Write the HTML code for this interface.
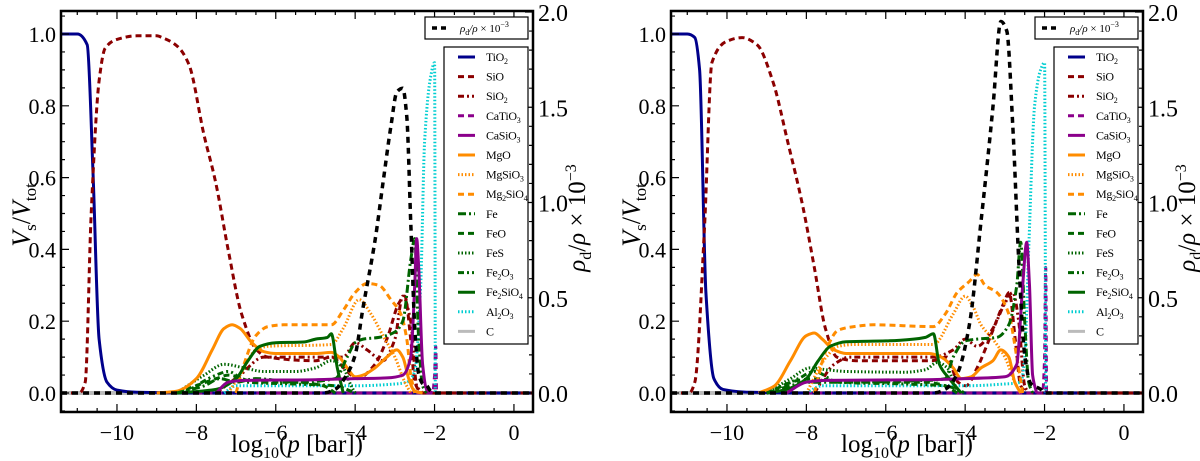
<!DOCTYPE html>
<html><head><meta charset="utf-8"><style>
html,body{margin:0;padding:0;background:#fff;}
svg{display:block;font-family:"Liberation Serif",serif;}
</style></head><body>
<svg id="fig" width="1200" height="461" viewBox="0 0 1200 461" xmlns="http://www.w3.org/2000/svg"></svg>
<script>
// ---------------- data (left panel) ----------------
const L_TiO2_x=[-11.41,-11.0,-10.75,-10.6,-10.45,-10.25,-10.0,-9.5,-8,0.48];
const L_TiO2_y=[1.0,1.0,0.97,0.6,0.15,0.03,0.008,0.002,0,0];
const L_SiO_x=[-11.41,-10.95,-10.8,-10.65,-10.45,-10.3,-10,-9.5,-9,-8.86,-8.48,-8.19,-7.81,-7.52,-7.2,-6.86,-6.48,-6.2,-5,-4.6,-4.2,-3.95,-3.5,-3.2,-2.9,-2.75,-2.6,-2.5,-2.3,0.48];
const L_SiO_y=[0,0,0.03,0.5,0.87,0.96,0.985,0.995,0.995,0.99,0.966,0.916,0.72,0.59,0.4,0.22,0.12,0.1,0.09,0.1,0.06,0.04,0.08,0.15,0.25,0.27,0.15,0.03,0,0];
const L_SiO2_x=[-7.5,-6.9,-6.3,-4.5,-4.3,-4.0,-3.7,-3.3,-3.0,-2.8,-2.6,-2.45,-2.3];
const L_SiO2_y=[0,0.05,0.1,0.1,0.1,0.14,0.12,0.09,0.15,0.27,0.2,0.02,0];
const L_CaTiO3_x=[-8,-2.05,-2.0,-1.97,-1.95];
const L_CaTiO3_y=[0,0,0.05,0.13,0];
const L_CaSiO3_x=[-7.5,-7.2,-6.8,-5,-4,-3.2,-2.8,-2.6,-2.5,-2.45,-2.4,-2.3,-2.2,-2.05];
const L_CaSiO3_y=[0,0.03,0.035,0.037,0.04,0.042,0.05,0.1,0.3,0.43,0.35,0.08,0.01,0];
const L_MgO_x=[-9,-8.5,-8,-7.6,-7.3,-7.1,-6.9,-6.6,-6.3,-6,-5,-4.6,-4.4,-4.2,-4.0,-3.8,-3.5,-3.2,-2.95,-2.8,-2.65,-2.5,-2.3];
const L_MgO_y=[0,0.005,0.04,0.12,0.18,0.19,0.18,0.14,0.115,0.11,0.11,0.113,0.1,0.07,0.045,0.05,0.07,0.1,0.12,0.1,0.04,0.005,0];
const L_MgSiO3_x=[-7.2,-6.9,-6.5,-6.2,-4.6,-4.3,-3.9,-3.6,-3.3,-3.0,-2.75,-2.6];
const L_MgSiO3_y=[0,0.05,0.12,0.13,0.135,0.18,0.26,0.22,0.16,0.1,0.03,0];
const L_Mg2SiO4_x=[-7,-6.8,-6.5,-6.2,-5.8,-4.6,-4.3,-4.0,-3.7,-3.4,-3.1,-2.85,-2.7,-2.6,-2.5];
const L_Mg2SiO4_y=[0,0.08,0.16,0.185,0.19,0.19,0.23,0.28,0.305,0.3,0.26,0.22,0.15,0.05,0];
const L_Fe_x=[-8.5,-7.8,-7.4,-7,-6.5,-5.5,-4.5,-4.2,-4.0,-3.8,-3.4,-3.0,-2.8,-2.6,-2.5,-2.4,-2.3,-2.2];
const L_Fe_y=[0,0.02,0.04,0.03,0.04,0.03,0.04,0.1,0.14,0.15,0.155,0.17,0.2,0.37,0.43,0.15,0.02,0];
const L_FeO_x=[-8.5,-7.5,-7.2,-6.5,-5.5,-4.8,-4.5];
const L_FeO_y=[0,0.04,0.05,0.03,0.03,0.02,0];
const L_FeS_x=[-8.5,-7.8,-7.3,-6.8,-6.3,-5.5,-5,-4.6,-4.3,-4.1,-4];
const L_FeS_y=[0,0.05,0.08,0.07,0.06,0.06,0.07,0.09,0.07,0.02,0];
const L_Fe2O3_x=[-8.3,-7.5,-7.2,-6.7,-5.5,-4.5,-4.0];
const L_Fe2O3_y=[0,0.05,0.06,0.03,0.025,0.02,0];
const L_Fe2SiO4_x=[-8.5,-7.5,-7.0,-6.7,-6.4,-6.0,-5.3,-5.0,-4.7,-4.6,-4.45,-4.3];
const L_Fe2SiO4_y=[0,0.01,0.04,0.09,0.13,0.14,0.142,0.15,0.155,0.165,0.07,0];
const L_Al2O3_x=[-7.3,-7,-6,-4,-3,-2.7,-2.5,-2.35,-2.25,-2.1,-2.0,-1.98];
const L_Al2O3_y=[0,0.02,0.02,0.02,0.025,0.03,0.06,0.3,0.7,0.88,0.92,0];
const L_C_x=[-11.41,0.48];
const L_C_y=[0,0];
const L_rho_x=[-11.41,-4.8,-4.5,-4.2,-4.0,-3.8,-3.5,-3.3,-3.1,-2.95,-2.8,-2.7,-2.6,-2.5,-2.4,-2.3,-2.2,-2.1,-2.0,0.48];
const L_rho_y=[0,0,0.02,0.1,0.2,0.45,0.8,1.1,1.4,1.58,1.6,1.45,0.9,0.35,0.1,0.05,0.04,0.01,0,0];
// ---------------- data (right panel) ----------------
const R_TiO2_x=[-11.41,-11.0,-10.81,-10.69,-10.53,-10.33,-10.1,-9.4,-8,0.48];
const R_TiO2_y=[1.0,1.0,0.99,0.9,0.28,0.04,0.01,0.002,0,0];
const R_SiO_x=[-11.41,-10.95,-10.81,-10.57,-10.38,-10,-9.62,-9.24,-8.85,-8.47,-8.09,-7.8,-7.52,-7.23,-6.75,-4.84,-4.46,-4.18,-3.98,-3.7,-3.32,-3.03,-2.89,-2.74,-2.6,-2.4,0.48];
const R_SiO_y=[0,0,0.03,0.45,0.92,0.98,0.99,0.97,0.87,0.7,0.52,0.35,0.18,0.1,0.09,0.09,0.1,0.03,0.02,0.07,0.17,0.25,0.28,0.15,0.02,0,0];
const R_SiO2_x=[-7.8,-7.3,-6.9,-4.8,-4.3,-4.0,-3.7,-3.3,-3.0,-2.8,-2.65,-2.5,-2.4];
const R_SiO2_y=[0,0.08,0.1,0.1,0.12,0.15,0.13,0.18,0.25,0.28,0.2,0.02,0];
const R_CaTiO3_x=[-8,-2.05,-2.0,-1.97,-1.95];
const R_CaTiO3_y=[0,0,0.1,0.35,0];
const R_CaSiO3_x=[-8.5,-8,-7.5,-5,-4,-3,-2.7,-2.55,-2.45,-2.38,-2.3,-2.2];
const R_CaSiO3_y=[0,0.03,0.035,0.037,0.04,0.045,0.08,0.3,0.42,0.3,0.05,0];
const R_MgO_x=[-9.2,-8.8,-8.4,-8.0,-7.8,-7.6,-7.3,-7.0,-4.9,-4.6,-4.3,-4.1,-3.85,-3.6,-3.3,-3.1,-2.9,-2.75,-2.6];
const R_MgO_y=[0,0.02,0.09,0.16,0.167,0.15,0.12,0.11,0.11,0.1,0.07,0.04,0.045,0.07,0.09,0.12,0.1,0.03,0];
const R_MgSiO3_x=[-8,-7.5,-7.2,-6.8,-4.8,-4.3,-4.0,-3.8,-3.6,-3.3,-3,-2.75,-2.6];
const R_MgSiO3_y=[0,0.1,0.13,0.135,0.135,0.22,0.27,0.24,0.19,0.15,0.1,0.03,0];
const R_Mg2SiO4_x=[-7.8,-7.5,-7.2,-6.8,-6.3,-4.8,-4.5,-4.2,-3.9,-3.7,-3.5,-3.2,-2.9,-2.7,-2.55];
const R_Mg2SiO4_y=[0,0.12,0.175,0.185,0.19,0.185,0.22,0.28,0.31,0.33,0.3,0.28,0.22,0.1,0];
const R_Fe_x=[-9,-8.4,-8.0,-7,-5,-4.5,-4.3,-4.0,-3.7,-3.2,-2.9,-2.7,-2.6,-2.5,-2.4,-2.3];
const R_Fe_y=[0,0.02,0.03,0.03,0.035,0.04,0.1,0.145,0.15,0.155,0.19,0.3,0.42,0.2,0.03,0];
const R_FeO_x=[-9,-8.2,-7.8,-7,-5,-4.5,-4.2];
const R_FeO_y=[0,0.035,0.04,0.03,0.03,0.02,0];
const R_FeS_x=[-9,-8.4,-7.9,-7.5,-7,-5.5,-5,-4.7,-4.45,-4.2,-4.0];
const R_FeS_y=[0,0.04,0.07,0.065,0.06,0.058,0.065,0.085,0.07,0.01,0];
const R_Fe2O3_x=[-9,-8.2,-7.8,-7.2,-5.5,-4.5,-4.0];
const R_Fe2O3_y=[0,0.04,0.06,0.03,0.025,0.02,0];
const R_Fe2SiO4_x=[-9,-8.5,-8.0,-7.7,-7.4,-7.0,-6.0,-5.3,-5.0,-4.8,-4.65,-4.4,-4.1];
const R_Fe2SiO4_y=[0,0.01,0.04,0.09,0.13,0.143,0.145,0.15,0.155,0.165,0.08,0.04,0];
const R_Al2O3_x=[-8,-7.6,-4,-3,-2.6,-2.5,-2.4,-2.25,-2.1,-2.0,-1.97];
const R_Al2O3_y=[0,0.02,0.02,0.025,0.03,0.1,0.4,0.8,0.9,0.92,0];
const R_C_x=[-11.41,0.48];
const R_C_y=[0,0];
const R_rho_x=[-11.41,-4.8,-4.5,-4.2,-3.9,-3.6,-3.3,-3.1,-2.95,-2.8,-2.65,-2.5,-2.35,-2.1,-2.0,0.48];
const R_rho_y=[0,0,0.02,0.1,0.35,0.9,1.5,1.95,1.9,1.4,0.7,0.2,0.05,0.02,0,0];
// tick labels
const xTicks=[-10,-8,-6,-4,-2,0];
const yTicksL=[0,0.2,0.4,0.6,0.8,1.0];
const yTicksR=[0,0.5,1.0,1.5,2.0];
const SB="<tspan dy='3' font-size='8'>";
const SE="</tspan><tspan dy='-3'>\u200b</tspan>";
const legendNames=["TiO"+SB+"2"+SE,"SiO","SiO"+SB+"2"+SE,"CaTiO"+SB+"3"+SE,"CaSiO"+SB+"3"+SE,"MgO","MgSiO"+SB+"3"+SE,"Mg"+SB+"2"+SE+"SiO"+SB+"4"+SE,"Fe","FeO","FeS","Fe"+SB+"2"+SE+"O"+SB+"3"+SE,"Fe"+SB+"2"+SE+"SiO"+SB+"4"+SE,"Al"+SB+"2"+SE+"O"+SB+"3"+SE,"C"];
const legendKeys=["tio2","sio","sio2","catio3","casio3","mgo","mgsio3","mg2sio4","fe","feo","fes","fe2o3","fe2sio4","al2o3","c"];

const STY={
 tio2:{c:"#00008b",d:""}, sio:{c:"#8b0000",d:"6,4"}, sio2:{c:"#8b0000",d:"6,3,2,3,2,3"},
 catio3:{c:"#8b008b",d:"6,4"}, casio3:{c:"#8b008b",d:""}, mgo:{c:"#ff8c00",d:""},
 mgsio3:{c:"#ff8c00",d:"1.5,2"}, mg2sio4:{c:"#ff8c00",d:"6,4"}, fe:{c:"#006400",d:"8,3,2,3"},
 feo:{c:"#006400",d:"6,4"}, fes:{c:"#006400",d:"1.5,2"}, fe2o3:{c:"#006400",d:"6,3,2,3,2,3"},
 fe2sio4:{c:"#006400",d:""}, al2o3:{c:"#00ced1",d:"1.5,2"}, c:{c:"#bbbbbb",d:""}
};
const PANELS=[
 {off:0,data:{c:[L_C_x,L_C_y],tio2:[L_TiO2_x,L_TiO2_y],sio:[L_SiO_x,L_SiO_y],sio2:[L_SiO2_x,L_SiO2_y],catio3:[L_CaTiO3_x,L_CaTiO3_y],al2o3:[L_Al2O3_x,L_Al2O3_y],fes:[L_FeS_x,L_FeS_y],fe2o3:[L_Fe2O3_x,L_Fe2O3_y],feo:[L_FeO_x,L_FeO_y],mgsio3:[L_MgSiO3_x,L_MgSiO3_y],mg2sio4:[L_Mg2SiO4_x,L_Mg2SiO4_y],mgo:[L_MgO_x,L_MgO_y],fe2sio4:[L_Fe2SiO4_x,L_Fe2SiO4_y],fe:[L_Fe_x,L_Fe_y],casio3:[L_CaSiO3_x,L_CaSiO3_y]},rho:[L_rho_x,L_rho_y]},
 {off:610,data:{c:[R_C_x,R_C_y],tio2:[R_TiO2_x,R_TiO2_y],sio:[R_SiO_x,R_SiO_y],sio2:[R_SiO2_x,R_SiO2_y],catio3:[R_CaTiO3_x,R_CaTiO3_y],al2o3:[R_Al2O3_x,R_Al2O3_y],fes:[R_FeS_x,R_FeS_y],fe2o3:[R_Fe2O3_x,R_Fe2O3_y],feo:[R_FeO_x,R_FeO_y],mgsio3:[R_MgSiO3_x,R_MgSiO3_y],mg2sio4:[R_Mg2SiO4_x,R_Mg2SiO4_y],mgo:[R_MgO_x,R_MgO_y],fe2sio4:[R_Fe2SiO4_x,R_Fe2SiO4_y],fe:[R_Fe_x,R_Fe_y],casio3:[R_CaSiO3_x,R_CaSiO3_y]},rho:[R_rho_x,R_rho_y]}
];

const NS="http://www.w3.org/2000/svg";
const fig=document.getElementById('fig');
function mk(tag,attrs,parent,html){const e=document.createElementNS(NS,tag);for(const k in attrs)e.setAttribute(k,attrs[k]);if(html!==undefined)e.innerHTML=html;(parent||fig).appendChild(e);return e;}

const BX0=61,BX1=533,BY0=11,BY1=412,XMIN=-11.41,XMAX=0.48;
// monotone cubic (Fritsch-Carlson) - no overshoot
function smooth(pts){
 const n=pts.length,f=v=>v.toFixed(1);
 if(n<3)return pts.map((p,i)=>(i?'L':'M')+f(p[0])+','+f(p[1])).join('');
 const dx=[],s=[];
 for(let i=0;i<n-1;i++){dx[i]=pts[i+1][0]-pts[i][0];s[i]=(pts[i+1][1]-pts[i][1])/(dx[i]||1e-6);}
 const m=[s[0]];
 for(let i=1;i<n-1;i++){m[i]=(s[i-1]*s[i]<=0)?0:3*(dx[i-1]+dx[i])/((2*dx[i]+dx[i-1])/s[i-1]+(dx[i]+2*dx[i-1])/s[i]);}
 m[n-1]=s[n-2];
 let d='M'+f(pts[0][0])+','+f(pts[0][1]);
 for(let i=0;i<n-1;i++){
  const h=dx[i]/3;
  d+=`C${f(pts[i][0]+h)},${f(pts[i][1]+m[i]*h)} ${f(pts[i+1][0]-h)},${f(pts[i+1][1]-m[i+1]*h)} ${f(pts[i+1][0])},${f(pts[i+1][1])}`;
 }
 return d;
}
PANELS.forEach((P,pi)=>{
 const o=P.off;
 const sx=v=>o+BX0+(v-XMIN)/(XMAX-XMIN)*(BX1-BX0);
 const syL=v=>393-v*359;
 const syR=v=>393-v*190.5;
 const g=mk('g',{});
 
 
 const clipId='clip'+pi;
 const cp=mk('clipPath',{id:clipId},g);mk('rect',{x:o+BX0,y:BY0,width:BX1-BX0,height:BY1-BY0},cp);
 const plot=mk('g',{'clip-path':'url(#'+clipId+')'},g);
 const path=(xs,ys,sy)=>smooth(xs.map((x,i)=>[sx(x),sy(ys[i])]));
 Object.keys(P.data).forEach(k=>{
  const s=STY[k],d=P.data[k];
  const p=mk('path',{d:path(d[0],d[1],syL),fill:'none',stroke:s.c,'stroke-width':k==='c'?4:3,'stroke-dasharray':s.d,'stroke-linejoin':'round'},plot);
  
  
 });
 const rp=mk('path',{d:path(P.rho[0],P.rho[1],syR),fill:'none',stroke:'#000','stroke-width':3.5,'stroke-dasharray':'6,5'},plot);
 
 
 const fr=mk('rect',{x:o+BX0,y:BY0,width:BX1-BX0,height:BY1-BY0,fill:'none',stroke:'#000','stroke-width':2.5},g);
 
 
 let t='';
 for(let v=-11;v<=0.01;v+=0.5){const X=sx(v),L=(Math.abs(v%2)<1e-6)?8:4;t+=`M${X},${BY1}v${-L}M${X},${BY0}v${L}`;}
 for(let v=-0.05;v<=1.06;v+=0.05){const Y=syL(v),L=(Math.abs(Math.round(v*100)%20)<1)?8:4;t+=`M${o+BX0},${Y}h${L}`;}
 for(let v=-0.1;v<=2.01;v+=0.1){const Y=syR(v),L=(Math.abs(Math.round(v*10)%5)<1)?8:4;t+=`M${o+BX1},${Y}h${-L}`;}
 mk('path',{d:t,stroke:'#000','stroke-width':1.2,fill:'none'},g);
 xTicks.forEach(v=>{const e=mk('text',{x:sx(v),y:440,'text-anchor':'middle','font-size':22},g,(v<0?'\u2212':'')+Math.abs(v));
  
  });
 yTicksL.forEach(v=>{const e=mk('text',{x:o+56,y:syL(v)+8,'text-anchor':'end','font-size':22},g,v.toFixed(1));
  
  });
 yTicksR.forEach(v=>{const e=mk('text',{x:o+538,y:syR(v)+9,'text-anchor':'start','font-size':24},g,v.toFixed(1));
  
  });
 const xt=mk('text',{x:o+297,y:452,'text-anchor':'middle','font-size':25},g,"log<tspan dy='6' font-size='16'>10</tspan><tspan dy='-6'>(</tspan><tspan font-style='italic'>p</tspan> [bar])");
 
 
 const yt=mk('text',{transform:`translate(${o+30},${215}) rotate(-90)`,'text-anchor':'middle','font-size':26},g,"<tspan font-style='italic'>V</tspan><tspan dy='6' font-size='17'>s</tspan><tspan dy='-6'>/</tspan><tspan font-style='italic'>V</tspan><tspan dy='6' font-size='17'>tot</tspan>");
 
 
 const yr=mk('text',{transform:`translate(${o+585},${218}) rotate(-90)`,'text-anchor':'middle','font-size':25},g,"<tspan font-style='italic'>ρ</tspan><tspan dy='6' font-size='16'>d</tspan><tspan dy='-6'>/</tspan><tspan font-style='italic'>ρ</tspan> × 10<tspan dy='-9' font-size='16'>−3</tspan>");
 
 
 const lg1=mk('g',{},g);
 
 
 mk('rect',{x:o+425,y:17,width:103,height:22,fill:'#fff',stroke:'#000','stroke-width':1.2},lg1);
 mk('line',{x1:o+432,y1:28,x2:o+450,y2:28,stroke:'#000','stroke-width':3.5,'stroke-dasharray':'5,4'},lg1);
 mk('text',{x:o+460,y:32,'font-size':11,'font-style':'italic'},lg1,"ρ<tspan dy='3' font-size='8' font-style='normal'>d</tspan><tspan dy='-3'>/ρ </tspan><tspan font-style='normal'>× 10</tspan><tspan dy='-5' font-size='8' font-style='normal'>−3</tspan>");
 const lg=mk('g',{},g);
 
 
 mk('rect',{x:o+444,y:47,width:84,height:297,fill:'#fff',stroke:'#000','stroke-width':1.2},lg);
 legendKeys.forEach((k,i)=>{
  const Y=57+i*19.6,s=STY[k];
  const en=mk('g',{},lg);
  
  
  mk('line',{x1:o+458,y1:Y,x2:o+475,y2:Y,stroke:s.c,'stroke-width':3,'stroke-dasharray':s.d},en);
  mk('text',{x:o+486,y:Y+4,'font-size':12,'letter-spacing':'-0.3'},en,legendNames[i]);
 });
});
</script>
</body></html>
